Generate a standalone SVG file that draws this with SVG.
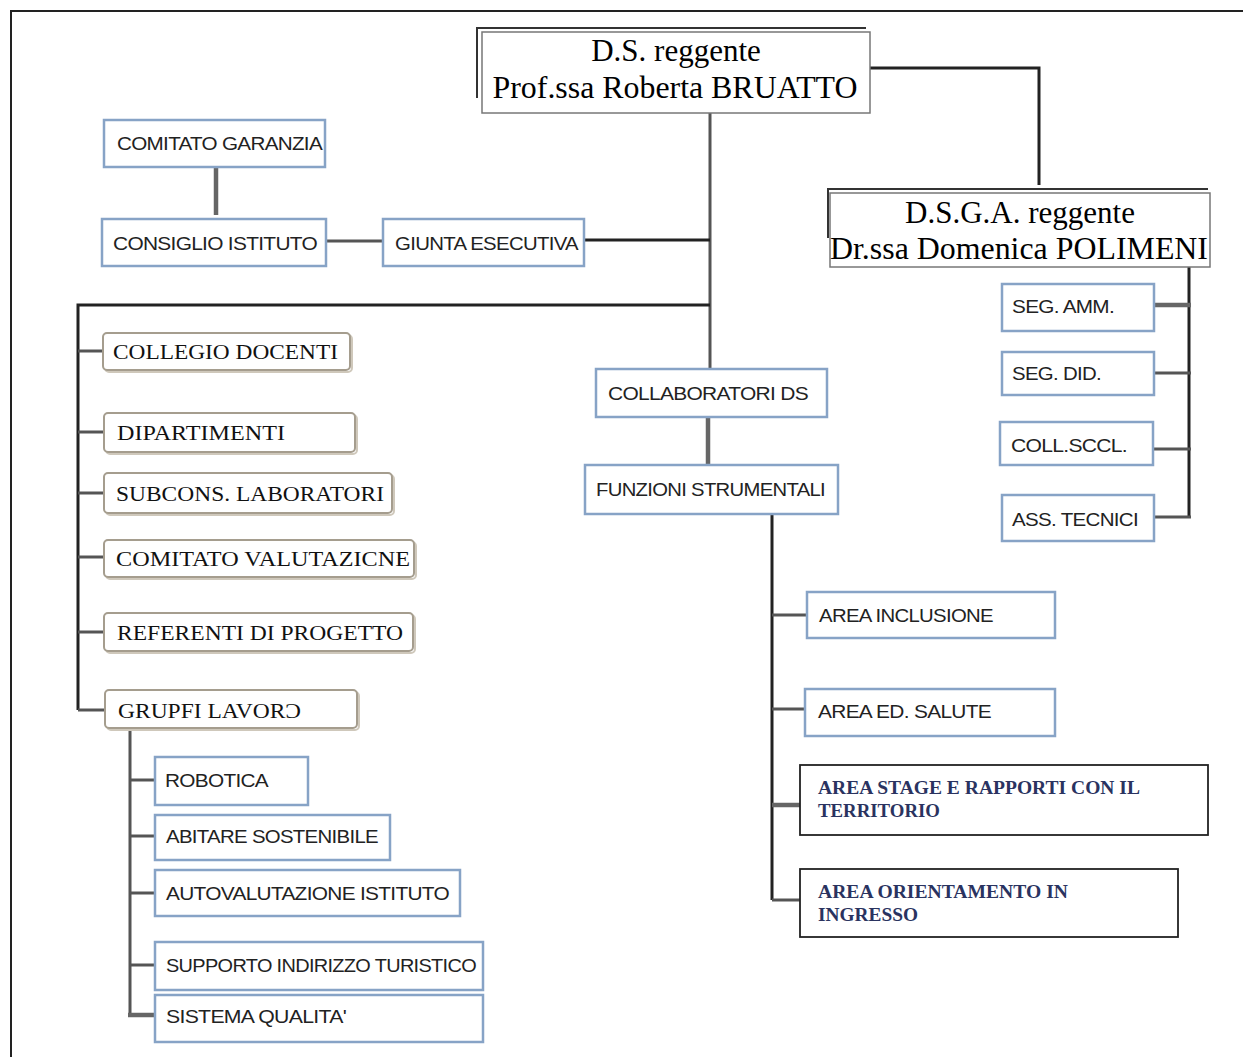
<svg xmlns="http://www.w3.org/2000/svg" width="1243" height="1057" viewBox="0 0 1243 1057">
<style>
.frame{fill:none;stroke:#222;stroke-width:2}
.top{fill:#fff;stroke:#777;stroke-width:1.5}
.topback{fill:#fff;stroke:#333;stroke-width:2}
.blue{fill:#fff;stroke:#87a3c6;stroke-width:2.5}
.tan{fill:#fff;stroke:#a59d8e;stroke-width:2}
.tanshadow{fill:none;stroke:#cfc8bb;stroke-width:2}
.black{fill:#fff;stroke:#222;stroke-width:1.8}
.big{font-family:"Liberation Serif",serif;font-size:31px;fill:#000}
.sans{font-family:"Liberation Sans",Arial,sans-serif;font-size:18px;fill:#222;letter-spacing:-0.6px}
.serif{font-family:"Liberation Serif",serif;font-size:21px;fill:#111}
.navy{font-family:"Liberation Serif",serif;font-size:19px;font-weight:bold;fill:#2a3360}
#connectors path{fill:none;stroke:#555;stroke-width:3}
#connectors .dark{stroke:#222}
#connectors .thick{stroke:#666;stroke-width:4.5}
</style>
<rect width="1243" height="1057" fill="#fff"/>
<path class="frame" d="M11,1057 V11 H1243"/>
<g id="connectors">
<path class="dark" d="M870,68 H1039 V185"/>
<path d="M710,113 V369"/>
<path class="thick" d="M216,167 V215"/>
<path d="M326,241 H383"/>
<path class="dark" d="M584,240 H710"/>
<path class="dark" d="M78,710 V305 H710"/>
<path d="M78,351 H103"/>
<path d="M78,432 H104"/>
<path d="M78,493 H104"/>
<path d="M78,557 H104"/>
<path d="M78,632 H104"/>
<path d="M78,710 H105"/>
<path d="M130,728 V1015"/>
<path d="M130,780 H155"/>
<path d="M130,836 H155"/>
<path d="M130,893 H155"/>
<path d="M130,965 H155"/>
<path class="thick" d="M128,1015 H155"/>
<path class="dark" d="M1189,267 V518"/>
<path class="thick" d="M1154,305 H1191"/>
<path d="M1154,373 H1191"/>
<path d="M1153,449 H1191"/>
<path d="M1154,517 H1191"/>
<path class="thick" d="M708,417 V466"/>
<path class="dark" d="M772,514 V900"/>
<path d="M772,615 H807"/>
<path d="M772,709 H805"/>
<path class="thick" d="M772,805 H800"/>
<path d="M772,900 H800"/>
</g>
<g id="ds">
<path class="topback" d="M477,98 V28 H866"/>
<rect class="top" x="482" y="32" width="388" height="81"/>
<text class="big" x="676" y="61" text-anchor="middle">D.S. reggente</text>
<text class="big" x="675" y="98" text-anchor="middle" textLength="365" lengthAdjust="spacingAndGlyphs">Prof.ssa Roberta BRUATTO</text>
</g>
<g id="dsga">
<path class="topback" d="M828,238 V189 H1208"/>
<rect class="top" x="830" y="193" width="380" height="74"/>
<text class="big" x="1020" y="223" text-anchor="middle">D.S.G.A. reggente</text>
<text class="big" x="1019" y="259" text-anchor="middle" textLength="378" lengthAdjust="spacingAndGlyphs">Dr.ssa Domenica POLIMENI</text>
</g>
<g id="comitato-garanzia">
<rect class="blue" x="104" y="120" width="221" height="47"/>
<text class="sans" x="117" y="150" textLength="205" lengthAdjust="spacingAndGlyphs">COMITATO GARANZIA</text>
</g>
<g id="consiglio-istituto">
<rect class="blue" x="102" y="219" width="224" height="47"/>
<text class="sans" x="113" y="250" textLength="204" lengthAdjust="spacingAndGlyphs">CONSIGLIO ISTITUTO</text>
</g>
<g id="giunta-esecutiva">
<rect class="blue" x="383" y="219" width="201" height="47"/>
<text class="sans" x="395" y="250" textLength="183" lengthAdjust="spacingAndGlyphs">GIUNTA ESECUTIVA</text>
</g>
<g id="collegio-docenti">
<rect class="tanshadow" x="105" y="335" width="247" height="37" rx="4"/>
<rect class="tan" x="103" y="333" width="247" height="37" rx="4"/>
<text class="serif" x="113" y="359" textLength="225" lengthAdjust="spacingAndGlyphs">COLLEGIO DOCENTI</text>
</g>
<g id="dipartimenti">
<rect class="tanshadow" x="106" y="415" width="251" height="39" rx="4"/>
<rect class="tan" x="104" y="413" width="251" height="39" rx="4"/>
<text class="serif" x="117" y="440" textLength="168" lengthAdjust="spacingAndGlyphs">DIPARTIMENTI</text>
</g>
<g id="subcons-laboratori">
<rect class="tanshadow" x="106" y="475" width="288" height="40" rx="4"/>
<rect class="tan" x="104" y="473" width="288" height="40" rx="4"/>
<text class="serif" x="116" y="501" textLength="268" lengthAdjust="spacingAndGlyphs">SUBCONS. LABORATORI</text>
</g>
<g id="comitato-valutazione">
<rect class="tanshadow" x="106" y="542" width="310" height="37" rx="4"/>
<rect class="tan" x="104" y="540" width="310" height="37" rx="4"/>
<text class="serif" x="116" y="566" textLength="294" lengthAdjust="spacingAndGlyphs">COMITATO VALUTAZICNE</text>
</g>
<g id="referenti-di-progetto">
<rect class="tanshadow" x="106" y="615" width="309" height="38" rx="4"/>
<rect class="tan" x="104" y="613" width="309" height="38" rx="4"/>
<text class="serif" x="117" y="640" textLength="286" lengthAdjust="spacingAndGlyphs">REFERENTI DI PROGETTO</text>
</g>
<g id="gruppi-lavoro">
<rect class="tanshadow" x="107" y="692" width="252" height="38" rx="4"/>
<rect class="tan" x="105" y="690" width="252" height="38" rx="4"/>
<text class="serif" x="118" y="718" textLength="183" lengthAdjust="spacingAndGlyphs">GRUPFI LAVORƆ</text>
</g>
<g id="robotica">
<rect class="blue" x="155" y="757" width="153" height="48"/>
<text class="sans" x="165" y="787" textLength="103" lengthAdjust="spacingAndGlyphs">ROBOTICA</text>
</g>
<g id="abitare-sostenibile">
<rect class="blue" x="155" y="815" width="235" height="45"/>
<text class="sans" x="166" y="843" textLength="212" lengthAdjust="spacingAndGlyphs">ABITARE SOSTENIBILE</text>
</g>
<g id="autovalutazione-istituto">
<rect class="blue" x="155" y="870" width="305" height="46"/>
<text class="sans" x="166" y="900" textLength="283" lengthAdjust="spacingAndGlyphs">AUTOVALUTAZIONE ISTITUTO</text>
</g>
<g id="supporto-indirizzo-turistico">
<rect class="blue" x="155" y="942" width="328" height="48"/>
<text class="sans" x="166" y="972" textLength="310" lengthAdjust="spacingAndGlyphs">SUPPORTO INDIRIZZO TURISTICO</text>
</g>
<g id="sistema-qualita">
<rect class="blue" x="155" y="995" width="328" height="47"/>
<text class="sans" x="166" y="1023" textLength="180" lengthAdjust="spacingAndGlyphs">SISTEMA QUALITA'</text>
</g>
<g id="collaboratori-ds">
<rect class="blue" x="596" y="369" width="231" height="48"/>
<text class="sans" x="608" y="400" textLength="200" lengthAdjust="spacingAndGlyphs">COLLABORATORI DS</text>
</g>
<g id="funzioni-strumentali">
<rect class="blue" x="585" y="465" width="253" height="49"/>
<text class="sans" x="596" y="496" textLength="229" lengthAdjust="spacingAndGlyphs">FUNZIONI STRUMENTALI</text>
</g>
<g id="seg-amm">
<rect class="blue" x="1002" y="284" width="152" height="47"/>
<text class="sans" x="1012" y="313" textLength="102" lengthAdjust="spacingAndGlyphs">SEG. AMM.</text>
</g>
<g id="seg-did">
<rect class="blue" x="1002" y="352" width="152" height="43"/>
<text class="sans" x="1012" y="380" textLength="89" lengthAdjust="spacingAndGlyphs">SEG. DID.</text>
</g>
<g id="coll-sccl">
<rect class="blue" x="1000" y="422" width="153" height="43"/>
<text class="sans" x="1011" y="452" textLength="116" lengthAdjust="spacingAndGlyphs">COLL.SCCL.</text>
</g>
<g id="ass-tecnici">
<rect class="blue" x="1002" y="495" width="152" height="46"/>
<text class="sans" x="1012" y="526" textLength="126" lengthAdjust="spacingAndGlyphs">ASS. TECNICI</text>
</g>
<g id="area-inclusione">
<rect class="blue" x="807" y="592" width="248" height="46"/>
<text class="sans" x="819" y="622" textLength="174" lengthAdjust="spacingAndGlyphs">AREA INCLUSIONE</text>
</g>
<g id="area-ed-salute">
<rect class="blue" x="805" y="689" width="250" height="47"/>
<text class="sans" x="818" y="718" textLength="173" lengthAdjust="spacingAndGlyphs">AREA ED. SALUTE</text>
</g>
<g id="area-stage">
<rect class="black" x="800" y="765" width="408" height="70"/>
<text class="navy" x="818" y="794" textLength="322" lengthAdjust="spacingAndGlyphs">AREA STAGE E RAPPORTI CON IL</text>
<text class="navy" x="818" y="817" textLength="122" lengthAdjust="spacingAndGlyphs">TERRITORIO</text>
</g>
<g id="area-orientamento">
<rect class="black" x="800" y="869" width="378" height="68"/>
<text class="navy" x="818" y="898" textLength="250" lengthAdjust="spacingAndGlyphs">AREA ORIENTAMENTO IN</text>
<text class="navy" x="818" y="921" textLength="100" lengthAdjust="spacingAndGlyphs">INGRESSO</text>
</g>
</svg>
